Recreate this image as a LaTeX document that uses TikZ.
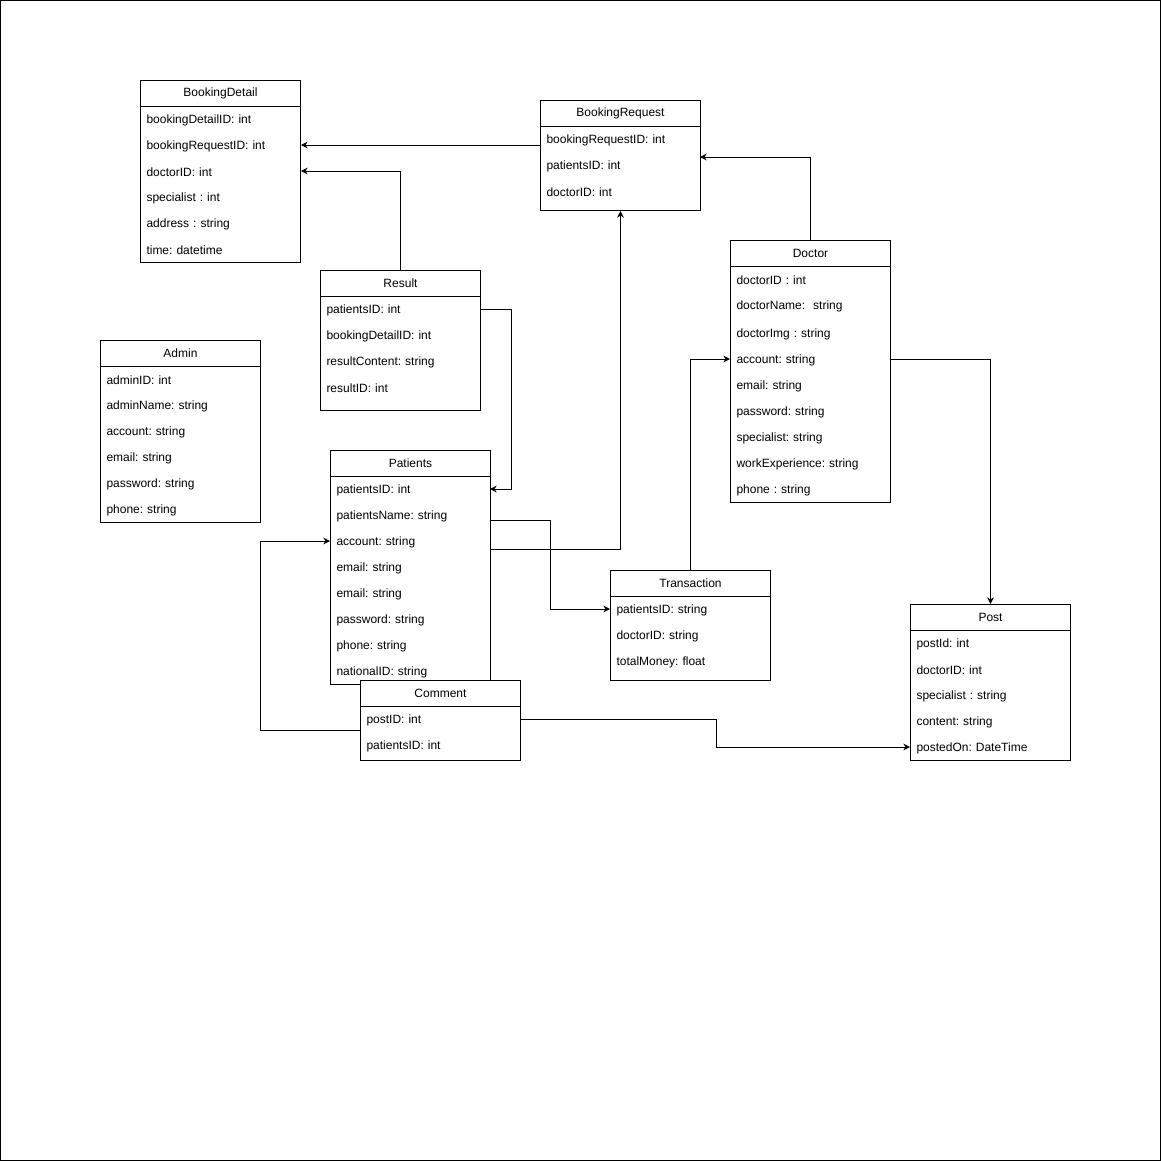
\documentclass[tikz,border=0pt]{standalone}
\usepackage{fontspec}
\setmainfont{Liberation Sans}
\usetikzlibrary{arrows.meta}

\begin{document}
\begin{tikzpicture}[x=0.75pt,y=-0.75pt,line width=0.75pt,
    every node/.style={font=\fontsize{9}{11}\selectfont\frenchspacing},
    head/.style={draw,fill=white,minimum width=120pt,minimum height=19.5pt,inner sep=0pt,anchor=north west},
    body/.style={draw,fill=white,minimum width=120pt,inner sep=0pt,anchor=north west},
    row/.style={anchor=west,text width=111pt,inner xsep=4.5pt,inner ysep=0pt,minimum height=19.5pt,align=left},
    arrow/.style={-{Stealth[length=5pt,width=5pt]}}]
    \draw (0.5,0.5) rectangle (1160.5,1160.5);
    % BookingDetail
    \node[head] (bdh) at (140,80) {BookingDetail};
    \node[body,minimum height=117pt] (bdb) at (140,106) {};
    \foreach \t [count=\i] in {bookingDetailID: int,bookingRequestID: int,doctorID: int,specialist : int,address : string,time: datetime}
        \node[row] (bd-\i) at (140,{94+26*\i}) {\t};
    % BookingRequest
    \node[head] (brh) at (540,100) {BookingRequest};
    \node[body,minimum height=63pt] (brb) at (540,126) {};
    \foreach \t [count=\i] in {bookingRequestID: int,patientsID: int,doctorID: int}
        \node[row] (br-\i) at (540,{114+26*\i}) {\t};
    % Result
    \node[head] (reh) at (320,270) {Result};
    \node[body,minimum height=85.5pt] (reb) at (320,296) {};
    \foreach \t [count=\i] in {patientsID: int,bookingDetailID: int,resultContent: string,resultID: int}
        \node[row] (re-\i) at (320,{284+26*\i}) {\t};
    % Admin
    \node[head] (adh) at (100,340) {Admin};
    \node[body,minimum height=117pt] (adb) at (100,366) {};
    \foreach \t [count=\i] in {adminID: int,adminName: string,account: string,email: string,password: string,phone: string}
        \node[row] (ad-\i) at (100,{354+26*\i}) {\t};
    % Doctor
    \node[head] (doh) at (730,240) {Doctor};
    \node[body,minimum height=177pt] (dob) at (730,266) {};
    \foreach \t/\y [count=\i] in {doctorID : int/280,doctorName:~ string/306,doctorImg : string/334,account: string/360,email: string/386,password: string/412,specialist: string/438,workExperience: string/464,phone : string/490}
        \node[row] (do-\i) at (730,\y) {\t};
    % Patients
    \node[head] (pah) at (330,450) {Patients};
    \node[body,minimum height=156pt] (pab) at (330,476) {};
    \foreach \t [count=\i] in {patientsID: int,patientsName: string,account: string,email: string,email: string,password: string,phone: string,nationalID: string}
        \node[row] (pa-\i) at (330,{464+26*\i}) {\t};
    % Transaction
    \node[head] (trh) at (610,570) {Transaction};
    \node[body,minimum height=63pt] (trb) at (610,596) {};
    \foreach \t [count=\i] in {patientsID: string,doctorID: string,totalMoney: float}
        \node[row] (tr-\i) at (610,{584+26*\i}) {\t};
    % Post
    \node[head] (poh) at (910,604) {Post};
    \node[body,minimum height=97.5pt] (pob) at (910,630) {};
    \foreach \t [count=\i] in {postId: int,doctorID: int,specialist : string,content: string,postedOn: DateTime}
        \node[row] (po-\i) at (910,{618+26*\i}) {\t};
    % Comment
    \node[head] (coh) at (360,680) {Comment};
    \node[body,minimum height=40.5pt] (cob) at (360,706) {};
    \foreach \t [count=\i] in {postID: int,patientsID: int}
        \node[row] (co-\i) at (360,{694+26*\i}) {\t};
    % free ends
    \coordinate (pa-o1) at (490,520);
    \coordinate (pa-o2) at (490,549);
    \coordinate (br-in) at (700,157);
    \coordinate (co-o) at (360,730);
    \coordinate (pa-in1) at (490,489);
    \coordinate (pa-in3) at (330,541);
    \coordinate (do-in) at (730,359);
    % links
    \draw[arrow] (brb.west |- 0,145) -- (bdb.east |- 0,145);
    \draw[arrow] (reh.north) |- (bdb.east |- 0,171);
    \draw[arrow] (reb.east |- 0,309) -- ++(30,0) |- (pa-in1);
    \draw[arrow] (pa-o2) -| (brb.south);
    \draw[arrow] (pa-o1) -- ++(60,0) |- (trb.west |- 0,609);
    \draw[arrow] (trh.north) |- (do-in);
    \draw[arrow] (doh.north) |- (br-in);
    \draw[arrow] (dob.east |- 0,359) -| (poh.north);
    \draw[arrow] (co-o) -- ++(-100,0) |- (pa-in3);
    \draw[arrow] (cob.east |- 0,719) -- ++(195,0) |- (pob.west |- 0,747);
\end{tikzpicture}
\end{document}
